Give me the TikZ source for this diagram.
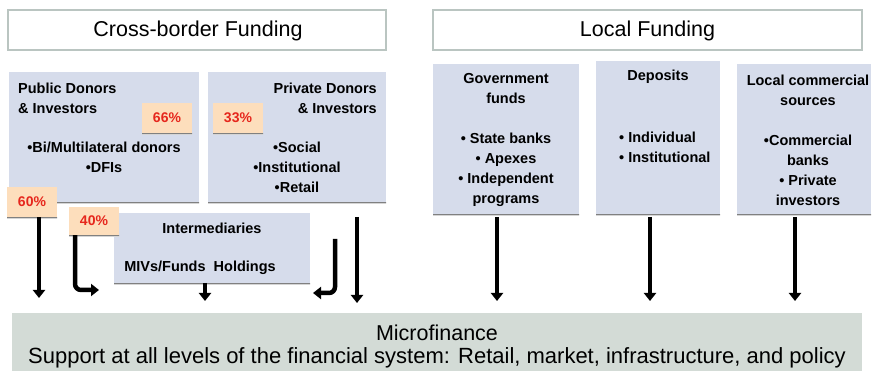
\documentclass[tikz,border=0pt]{standalone}
\usepackage{fontspec}
\setmainfont{Liberation Sans}
\usetikzlibrary{arrows.meta}
\definecolor{boxfill}{RGB}{214,220,235}
\definecolor{hdrline}{RGB}{186,197,193}
\definecolor{microfill}{RGB}{211,219,214}
\definecolor{pctfill}{RGB}{253,222,188}
\definecolor{pctred}{RGB}{230,38,28}
\definecolor{shade}{RGB}{196,199,206}
\begin{document}
\begin{tikzpicture}[x=1pt,y=-1pt,
  hdrbox/.style={draw=hdrline,line width=2pt,fill=white},
  srcbox/.style={fill=boxfill},
  pctbox/.style={fill=pctfill,inner sep=0pt,minimum width=50pt,minimum height=30pt,
    text=pctred,font=\fontsize{14}{16}\selectfont\bfseries},
  boxtext/.style={inner sep=0pt,font=\fontsize{14.5}{20}\selectfont\bfseries},
  hdrtext/.style={inner sep=0pt,font=\fontsize{21.5}{24}\selectfont},
  flow/.style={line width=4.5pt,-{Triangle[length=8pt,width=12pt]}},
  bentflow/.style={flow,rounded corners=6pt}]
\useasboundingbox (0,0) rectangle (873,371);
% headers
\draw[hdrbox] (8,10) rectangle (386,50);
\node[hdrtext] (hdrA) at (198,31) {Cross-border Funding};
\draw[hdrbox] (433,10) rectangle (862,50);
\node[hdrtext] (hdrB) at (647.5,31) {Local Funding};
% cross-border source boxes
\fill[shade] (9,202) rectangle (199,203.5);
\path[srcbox] (9,72) rectangle (199,202);
\node[boxtext,anchor=west,align=left] (pubT) at (18,98) {Public Donors\\\& Investors};
\node[boxtext,align=center] (pubL) at (104,157) {•Bi/Multilateral donors\\•DFIs};
\fill[shade] (208,202) rectangle (386,203.5);
\path[srcbox] (208,72) rectangle (386,202);
\node[boxtext,anchor=east,align=right] (prvT) at (377,98) {Private Donors\\\& Investors};
\node[boxtext,align=center] (prvL) at (297,167) {•Social\\•Institutional\\•Retail};
% intermediaries
\fill[shade] (114,283) rectangle (310,284.5);
\path[srcbox] (114,213) rectangle (310,283);
\node[boxtext] (intT) at (212,228) {Intermediaries};
\node[boxtext] (intL) at (200,268) {MIVs/Funds\ \ Holdings};
\coordinate (intS) at (205,283);
% percentage boxes
\fill[shade] (142,133) rectangle (192,134.5);
\node[pctbox] (p66) at (167,118) {66\%};
\fill[shade] (213,133) rectangle (263,134.5);
\node[pctbox] (p33) at (238,118) {33\%};
\fill[shade] (7,217) rectangle (57,218.5);
\node[pctbox] (p60) at (32,202) {60\%};
\fill[shade] (69,235) rectangle (119,236.5);
\node[pctbox,minimum height=28pt] (p40) at (94,221) {40\%};
% local boxes
\fill[shade] (433,214) rectangle (579,215.5);
\path[srcbox] (433,64) rectangle (579,214);
\node[boxtext,align=center] (govT) at (506,140) {Government\\funds\\[20pt]• State banks\\• Apexes\\• Independent\\programs};
\coordinate (govS) at (497,217);
\fill[shade] (596,214) rectangle (720,215.5);
\path[srcbox] (596,61) rectangle (720,214);
\node[boxtext] (depT) at (658,77) {Deposits};
\node[boxtext,anchor=west,align=left] (depL) at (619,147) {• Individual\\• Institutional};
\coordinate (depS) at (650,217);
\fill[shade] (737,214) rectangle (871,215.5);
\path[srcbox] (737,64) rectangle (871,214);
\node[boxtext,align=center] (locT) at (808,140) {Local commercial\\sources\\[20pt]•Commercial\\banks\\• Private\\investors};
\coordinate (locS) at (795,217);
% microfinance
\path[fill=microfill] (12,313) rectangle (862,372);
\node[inner sep=0pt,font=\fontsize{21.5}{24}\selectfont] (mfT) at (437,333) {Microfinance};
\node[inner sep=0pt,font=\fontsize{22}{24}\selectfont] (mfL) at (437,358) {Support at all levels of the financial system: Retail, market, infrastructure, and policy};
% arrow end coordinates
\coordinate (e1) at (39,298);
\coordinate (e2) at (99,290);
\coordinate (e3) at (205,301);
\coordinate (s4) at (335,239);
\coordinate (e4) at (313,293);
\coordinate (s5) at (357,217);
\coordinate (e5) at (357,303);
\coordinate (e6) at (497,301);
\coordinate (e7) at (650,301);
\coordinate (e8) at (795,301);
% arrows
\draw[flow] (p60.south -| e1) -- (e1);
\draw[bentflow] ([xshift=-19pt]p40.south) |- (e2);
\draw[flow] (intS) -- (e3);
\draw[bentflow] (s4) |- (e4);
\draw[flow] (s5) -- (e5);
\draw[flow] (govS) -- (e6);
\draw[flow] (depS) -- (e7);
\draw[flow] (locS) -- (e8);
\end{tikzpicture}
\end{document}
